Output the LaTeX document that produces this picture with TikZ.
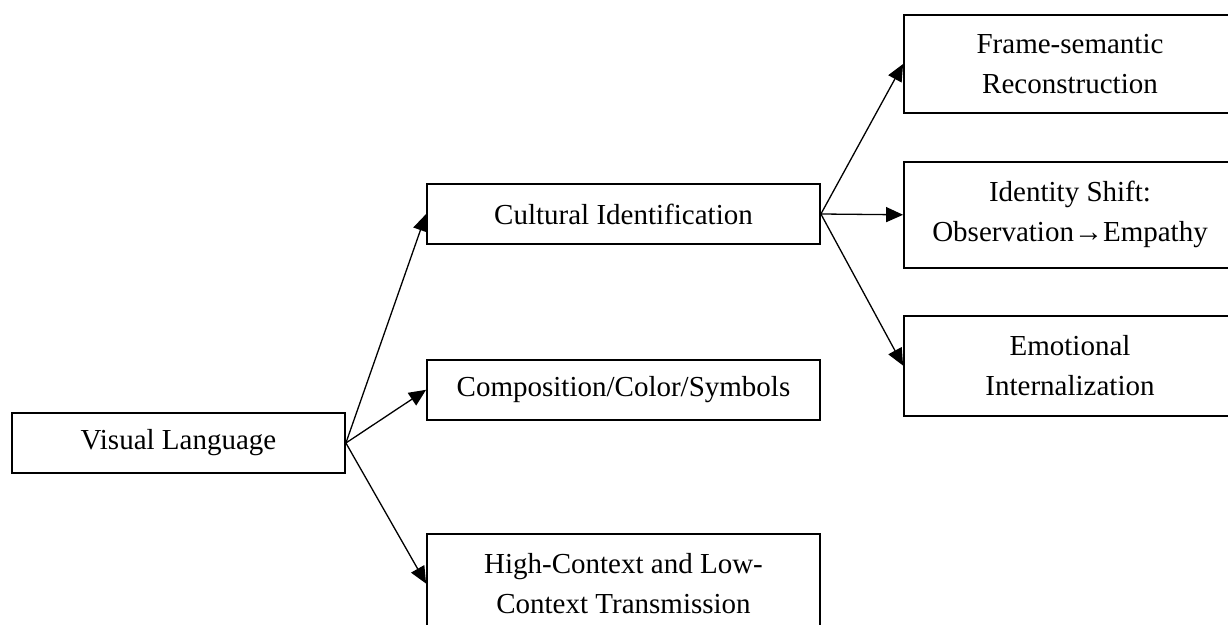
\documentclass[tikz,border=0pt]{standalone}
\usepackage{fontspec}
\setmainfont{Liberation Serif}
\usepackage{tikz}
\usetikzlibrary{arrows.meta,positioning}

\tikzset{
  box/.style={draw, line width=1.8bp, inner sep=0pt, align=center,
    font=\fontsize{29bp}{40bp}\selectfont},
  link/.style={->, line width=1.3bp}
}

\begin{document}
\begin{tikzpicture}[x=1bp, y=-1bp, >={Triangle[length=17bp,width=15bp]}]
  \useasboundingbox (0,0) rectangle (1228,625);
  \clip (0,0) rectangle (1228,625);
  \node[box, minimum width=333bp, minimum height=60bp] (vis) at (178.5,443) {Visual Language};
  \node[box, minimum width=393bp, minimum height=60bp] (cult) at (623.5,214) {Cultural Identification};
  \node[box, minimum width=393bp, minimum height=60bp] (comp) [below=114bp of cult] {Composition/Color/Symbols};
  \node[box, minimum width=393bp, minimum height=100bp] (hilo) [below=112bp of comp] {High-Context and Low-\\Context Transmission};
  \node[box, minimum width=332bp, minimum height=98bp] (frame) at (1070,64) {Frame-semantic\\Reconstruction};
  \node[box, minimum width=332bp, minimum height=106bp] (ident) [below=47bp of frame] {Identity Shift:\\Observation→Empathy};
  \node[box, minimum width=332bp, minimum height=100bp] (emo) [below=46bp of ident] {Emotional\\Internalization};
  \draw[link] (vis.east) -- (cult.west);
  \draw[link] (vis.east) -- (comp.west);
  \draw[link] (vis.east) -- (hilo.west);
  \draw[link] (cult.east) -- (frame.west);
  \draw[link] (cult.east) -- (ident.west);
  \draw[link] (cult.east) -- (emo.west);
\end{tikzpicture}
\end{document}
